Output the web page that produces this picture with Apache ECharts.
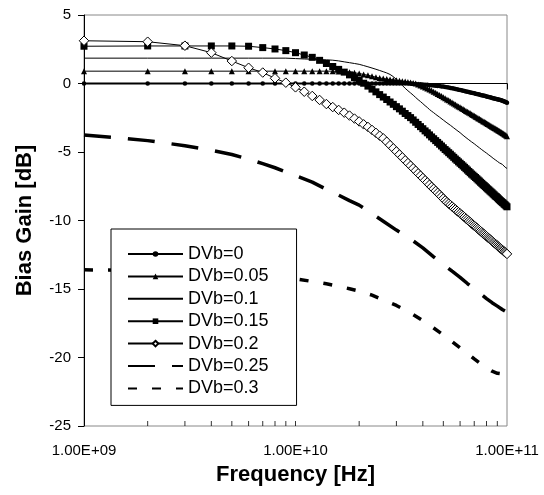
<!DOCTYPE html>
<html>
<head>
<meta charset="utf-8">
<script src="https://cdn.jsdelivr.net/npm/echarts@6/dist/echarts.min.js"></script>
<style>
html,body{margin:0;padding:0;background:#fff;}
#chart{width:544px;height:495px;}
</style>
</head>
<body>
<div id="chart"></div>
<script>
// sweep points, GHz (1e9 .. 1e11 in 1 GHz steps)
var freqGHz = [1,2,3,4,5,6,7,8,9,10,
	11,12,13,14,15,16,17,18,19,20,
	21,22,23,24,25,26,27,28,29,30,
	31,32,33,34,35,36,37,38,39,40,
	41,42,43,44,45,46,47,48,49,50,
	51,52,53,54,55,56,57,58,59,60,
	61,62,63,64,65,66,67,68,69,70,
	71,72,73,74,75,76,77,78,79,80,
	81,82,83,84,85,86,87,88,89,90,
	91,92,93,94,95,96,97,98,99,100];

var gain0 = [0,0,0,0,0,0,0,0,0,0,
	0,0,0,0,0,0,0,0,0,0,
	0,0,0,0,0,0,0,0,0,0,
	0,0,0,0,0,-0.02,-0.03,-0.05,-0.06,-0.08,
	-0.09,-0.10,-0.12,-0.13,-0.15,-0.16,-0.18,-0.19,-0.21,-0.22,
	-0.25,-0.27,-0.30,-0.32,-0.35,-0.37,-0.40,-0.42,-0.45,-0.47,
	-0.50,-0.53,-0.55,-0.58,-0.60,-0.62,-0.65,-0.67,-0.70,-0.72,
	-0.74,-0.77,-0.79,-0.81,-0.84,-0.86,-0.88,-0.90,-0.92,-0.95,
	-0.97,-0.99,-1.01,-1.03,-1.05,-1.07,-1.09,-1.11,-1.13,-1.15,
	-1.17,-1.19,-1.21,-1.23,-1.26,-1.28,-1.31,-1.34,-1.37,-1.40];

var gain005 = [0.9,0.9,0.9,0.9,0.9,0.9,0.9,0.9,0.9,0.9,
	0.9,0.9,0.9,0.9,0.9,0.88,0.86,0.83,0.78,0.73,
	0.66,0.60,0.53,0.46,0.40,0.36,0.32,0.29,0.26,0.23,
	0.20,0.17,0.14,0.11,0.07,0.04,0.00,-0.07,-0.14,-0.21,
	-0.29,-0.37,-0.44,-0.52,-0.60,-0.68,-0.76,-0.84,-0.92,-1.00,
	-1.08,-1.16,-1.23,-1.31,-1.38,-1.46,-1.53,-1.60,-1.67,-1.74,
	-1.80,-1.87,-1.93,-2.00,-2.06,-2.12,-2.18,-2.24,-2.30,-2.36,
	-2.42,-2.47,-2.53,-2.58,-2.64,-2.69,-2.75,-2.80,-2.85,-2.90,
	-2.95,-3.00,-3.05,-3.10,-3.15,-3.20,-3.24,-3.29,-3.34,-3.38,
	-3.43,-3.47,-3.52,-3.56,-3.61,-3.65,-3.70,-3.74,-3.79,-3.85];

var gain01 = [1.85,1.85,1.85,1.85,1.85,1.85,1.85,1.85,1.85,1.82,
	1.79,1.77,1.75,1.73,1.70,1.65,1.58,1.52,1.46,1.40,
	1.31,1.22,1.13,1.04,0.95,0.86,0.77,0.66,0.50,0.30,
	0.09,-0.14,-0.35,-0.53,-0.69,-0.85,-1.02,-1.18,-1.32,-1.47,
	-1.62,-1.75,-1.90,-2.02,-2.13,-2.25,-2.35,-2.46,-2.56,-2.67,
	-2.77,-2.87,-2.96,-3.05,-3.15,-3.24,-3.33,-3.42,-3.51,-3.59,
	-3.62,-3.78,-3.80,-3.95,-3.97,-4.11,-4.12,-4.26,-4.27,-4.40,
	-4.42,-4.55,-4.56,-4.69,-4.70,-4.83,-4.83,-4.96,-4.96,-5.08,
	-5.09,-5.21,-5.21,-5.33,-5.33,-5.46,-5.45,-5.57,-5.56,-5.68,
	-5.68,-5.79,-5.79,-5.90,-5.90,-6.01,-6.00,-6.11,-6.10,-6.20];

var gain015 = [2.72,2.74,2.74,2.74,2.74,2.72,2.62,2.52,2.40,2.25,
	2.08,1.91,1.69,1.46,1.24,1.03,0.83,0.63,0.42,0.23,
	0.02,-0.19,-0.41,-0.61,-0.81,-0.99,-1.17,-1.35,-1.52,-1.69,
	-1.85,-2.02,-2.19,-2.34,-2.49,-2.66,-2.83,-2.99,-3.15,-3.30,
	-3.46,-3.60,-3.75,-3.90,-4.03,-4.17,-4.30,-4.43,-4.56,-4.69,
	-4.82,-4.93,-5.05,-5.16,-5.28,-5.39,-5.51,-5.61,-5.72,-5.82,
	-5.92,-6.02,-6.12,-6.22,-6.32,-6.42,-6.51,-6.61,-6.69,-6.78,
	-6.86,-6.95,-7.04,-7.12,-7.21,-7.29,-7.38,-7.45,-7.53,-7.61,
	-7.69,-7.76,-7.84,-7.91,-7.98,-8.06,-8.13,-8.21,-8.26,-8.33,
	-8.41,-8.48,-8.55,-8.61,-8.68,-8.73,-8.81,-8.86,-8.93,-9.00];

var gain02 = [3.12,3.05,2.76,2.25,1.64,1.15,0.80,0.38,0.06,-0.28,
	-0.60,-0.91,-1.20,-1.50,-1.72,-1.93,-2.13,-2.34,-2.56,-2.77,
	-2.98,-3.17,-3.39,-3.60,-3.81,-4.00,-4.25,-4.50,-4.73,-4.96,
	-5.18,-5.39,-5.61,-5.81,-6.00,-6.19,-6.37,-6.56,-6.73,-6.90,
	-7.07,-7.22,-7.39,-7.55,-7.69,-7.84,-7.98,-8.12,-8.26,-8.40,
	-8.54,-8.66,-8.77,-8.87,-8.98,-9.09,-9.19,-9.29,-9.39,-9.48,
	-9.58,-9.67,-9.76,-9.86,-9.95,-10.04,-10.12,-10.22,-10.30,-10.38,
	-10.46,-10.54,-10.62,-10.70,-10.78,-10.86,-10.94,-11.00,-11.08,-11.15,
	-11.23,-11.30,-11.36,-11.43,-11.50,-11.58,-11.64,-11.71,-11.76,-11.83,
	-11.90,-11.96,-12.03,-12.08,-12.15,-12.20,-12.27,-12.32,-12.39,-12.44];

// the two dashed curves, read on a coarser grid
var dashFreqGHz = [1,1.5,2,3,4,5,6,7,8,9,10,12,14,16,18,20,23,26,30,35,40,45,50,55,60,65,70,75,80,85,90,95,100];
var gain025 = [-3.76,-3.98,-4.17,-4.54,-4.87,-5.18,-5.52,-5.85,-6.15,-6.45,-6.72,-7.2,-7.72,-8.15,-8.55,-8.88,-9.5,
	-10.05,-10.7,-11.35,-12.0,-12.65,-13.2,-13.7,-14.15,-14.6,-15.0,-15.35,-15.7,-16.0,-16.25,-16.5,-16.7];
var gain03 = [-13.6,-13.63,-13.66,-13.72,-13.78,-13.85,-13.92,-14.0,-14.08,-14.17,-14.26,-14.45,-14.62,-14.8,-14.98,-15.15,-15.45,
	-15.8,-16.2,-16.75,-17.3,-17.85,-18.35,-18.85,-19.3,-19.7,-20.1,-20.45,-20.75,-21.0,-21.15,-21.2,-21.25];

var seriesNames = ['DVb=0','DVb=0.05','DVb=0.1','DVb=0.15','DVb=0.2','DVb=0.25','DVb=0.3'];

// small inner ticks of the log axis (Excel style)
var minorTickGHz = [2,3,4,5,6,7,8,9,10,20,30,40,50,60,70,80,90];

var FONT = '"Liberation Sans", Arial, sans-serif';

function pairs(xs, ys) {
	return xs.map(function (x, i) { return [x, ys[i]]; });
}

// 1 GHz -> "1.00E+09"
function sciLabel(v) {
	var hz = v * 1e9;
	var e = Math.floor(Math.log10(hz) + 1e-9);
	var m = hz / Math.pow(10, e);
	return m.toFixed(2) + 'E+' + (e < 10 ? '0' : '') + e;
}

var myChart = echarts.init(document.getElementById('chart'), null, {renderer: 'canvas'});

var option = {
	animation: false,
	backgroundColor: '#fff',
	textStyle: {fontFamily: FONT},
	grid: {
		left: 84, right: 37, top: 15, bottom: 69,
		show: true, borderColor: '#888', borderWidth: 1, backgroundColor: 'transparent'
	},
	legend: {
		orient: 'vertical',
		left: 111, top: 229,
		itemWidth: 55, itemHeight: 7, itemGap: 4.4,
		padding: [16, 28, 8, 16],
		backgroundColor: '#fff',
		borderColor: '#000', borderWidth: 1, borderRadius: 0,
		selectedMode: false,
		textStyle: {fontSize: 18, color: '#000', fontFamily: FONT},
		data: [
			{name: 'DVb=0'},
			{name: 'DVb=0.05'},
			{name: 'DVb=0.1', itemStyle: {opacity: 0}},
			{name: 'DVb=0.15'},
			{name: 'DVb=0.2'},
			{name: 'DVb=0.25', itemStyle: {opacity: 0}},
			{name: 'DVb=0.3', itemStyle: {opacity: 0}}
		]
	},
	xAxis: {
		type: 'log', logBase: 10, min: 1, max: 100,
		axisLine: {show: true, lineStyle: {color: '#000', width: 1}},
		axisTick: {show: true, inside: false, length: 6, lineStyle: {color: '#000'}},
		minorTick: {show: false},
		splitLine: {show: false},
		axisLabel: {fontSize: 15, color: '#000', margin: 17, fontFamily: FONT, formatter: sciLabel},
		name: 'Frequency [Hz]', nameLocation: 'middle', nameGap: 38,
		nameTextStyle: {fontSize: 22, fontWeight: 'bold', color: '#000', fontFamily: FONT}
	},
	yAxis: {
		type: 'value', min: -25, max: 5, interval: 5,
		axisLine: {show: true, lineStyle: {color: '#000', width: 1}},
		axisTick: {show: true, inside: false, length: 6, lineStyle: {color: '#000'}},
		splitLine: {show: false},
		axisLabel: {fontSize: 15, color: '#000', margin: 13, fontFamily: FONT},
		name: 'Bias Gain [dB]', nameLocation: 'middle', nameGap: 48, nameRotate: 90,
		nameTextStyle: {fontSize: 22, fontWeight: 'bold', color: '#000', fontFamily: FONT}
	},
	series: [
		{
			name: 'ticks', type: 'scatter', silent: true, z: 3,
			symbol: 'rect', symbolSize: [1, 5], symbolOffset: [0, -2.5],
			itemStyle: {color: '#000'},
			data: minorTickGHz.map(function (x) { return [x, -25]; })
		},
		{
			name: seriesNames[0], type: 'line', silent: true,
			data: pairs(freqGHz, gain0),
			symbol: 'circle', symbolSize: 4.5,
			lineStyle: {color: '#000', width: 2},
			itemStyle: {color: '#000'}
		},
		{
			name: seriesNames[1], type: 'line', silent: true,
			data: pairs(freqGHz, gain005),
			symbol: 'triangle', symbolSize: 6,
			lineStyle: {color: '#000', width: 1},
			itemStyle: {color: '#000'}
		},
		{
			name: seriesNames[2], type: 'line', silent: true,
			data: pairs(freqGHz, gain01),
			symbol: 'none',
			lineStyle: {color: '#000', width: 1},
			itemStyle: {color: '#000'}
		},
		{
			name: seriesNames[3], type: 'line', silent: true,
			data: pairs(freqGHz, gain015),
			symbol: 'rect', symbolSize: 7,
			lineStyle: {color: '#000', width: 1},
			itemStyle: {color: '#000'}
		},
		{
			name: seriesNames[4], type: 'line', silent: true,
			data: pairs(freqGHz, gain02),
			symbol: 'diamond', symbolSize: 9.5,
			lineStyle: {color: '#000', width: 1},
			itemStyle: {color: '#fff', borderColor: '#000', borderWidth: 1}
		},
		{
			name: seriesNames[5], type: 'line', silent: true,
			data: pairs(dashFreqGHz, gain025),
			symbol: 'none',
			lineStyle: {color: '#000', width: 3.5, type: [27, 17], cap: 'butt'},
			itemStyle: {color: '#000'}
		},
		{
			name: seriesNames[6], type: 'line', silent: true,
			data: pairs(dashFreqGHz, gain03),
			symbol: 'none',
			lineStyle: {color: '#000', width: 3.5, type: [9, 15], cap: 'butt'},
			itemStyle: {color: '#000'}
		}
	]
};

myChart.setOption(option);
</script>
</body>
</html>
